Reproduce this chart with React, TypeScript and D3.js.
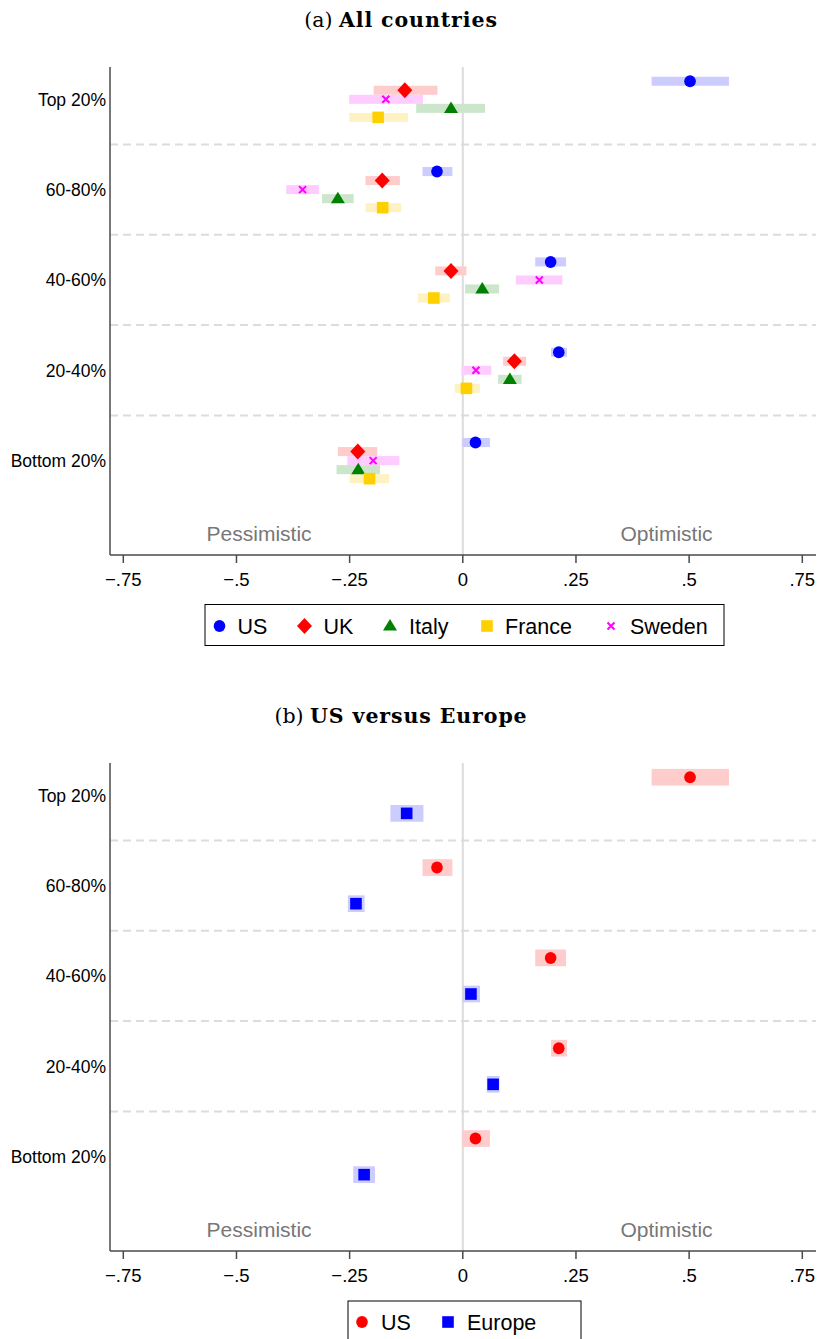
import React from "react";
import * as d3 from "d3";

// ---------- data ----------
const categories = ["Top 20%", "60-80%", "40-60%", "20-40%", "Bottom 20%"];
const tickValues = [-0.75, -0.5, -0.25, 0, 0.25, 0.5, 0.75];
const tickLabels = ["\u2212.75", "\u2212.5", "\u2212.25", "0", ".25", ".5", ".75"];

// Panel (a): all countries (point estimate, lower, upper)
const usEst = [0.502, -0.057, 0.194, 0.212, 0.028];
const usLo = [0.417, -0.089, 0.16, 0.195, -0.001];
const usHi = [0.588, -0.023, 0.228, 0.23, 0.06];

const ukEst = [-0.128, -0.178, -0.026, 0.114, -0.232];
const ukLo = [-0.197, -0.215, -0.061, 0.089, -0.276];
const ukHi = [-0.056, -0.139, 0.008, 0.14, -0.189];

const swedenEst = [-0.17, -0.354, 0.169, 0.029, -0.198];
const swedenLo = [-0.251, -0.39, 0.117, -0.003, -0.255];
const swedenHi = [-0.088, -0.318, 0.22, 0.063, -0.14];

const italyEst = [-0.026, -0.276, 0.043, 0.104, -0.231];
const italyLo = [-0.103, -0.311, 0.005, 0.078, -0.279];
const italyHi = [0.049, -0.241, 0.08, 0.13, -0.183];

const franceEst = [-0.187, -0.177, -0.064, 0.008, -0.206];
const franceLo = [-0.251, -0.215, -0.099, -0.018, -0.25];
const franceHi = [-0.121, -0.136, -0.028, 0.038, -0.163];

// Panel (b): US versus Europe
const europeEst = [-0.124, -0.236, 0.018, 0.067, -0.218];
const europeLo = [-0.16, -0.254, 0.0, 0.053, -0.242];
const europeHi = [-0.087, -0.217, 0.038, 0.081, -0.194];

type Shape = "circle" | "diamond" | "triangle" | "square" | "x";
interface Series {
  name: string;
  est: number[];
  lo: number[];
  hi: number[];
  color: string;
  fill: string;
  shape: Shape;
  offset: number;
}

const seriesA: Series[] = [
  { name: "US", est: usEst, lo: usLo, hi: usHi, color: "#0000ff", fill: "#ccccff", shape: "circle", offset: -0.2 },
  { name: "UK", est: ukEst, lo: ukLo, hi: ukHi, color: "#ff0000", fill: "#ffcccc", shape: "diamond", offset: -0.1 },
  { name: "Sweden", est: swedenEst, lo: swedenLo, hi: swedenHi, color: "#ff00ff", fill: "#ffccff", shape: "x", offset: 0 },
  { name: "Italy", est: italyEst, lo: italyLo, hi: italyHi, color: "#008000", fill: "#cce6cc", shape: "triangle", offset: 0.1 },
  { name: "France", est: franceEst, lo: franceLo, hi: franceHi, color: "#ffd000", fill: "#fff2c2", shape: "square", offset: 0.2 },
];
const legendOrderA = ["US", "UK", "Italy", "France", "Sweden"];

const seriesB: Series[] = [
  { name: "US", est: usEst, lo: usLo, hi: usHi, color: "#ff0000", fill: "#ffcccc", shape: "circle", offset: -0.2 },
  { name: "Europe", est: europeEst, lo: europeLo, hi: europeHi, color: "#0000ff", fill: "#ccccff", shape: "square", offset: 0.2 },
];
const legendOrderB = ["US", "Europe"];

// ---------- layout ----------
const W = 820;
const H = 1339;
const SANS = "'Liberation Sans', Arial, Helvetica, sans-serif";
const SERIF = "'DejaVu Serif', 'Liberation Serif', serif";

const x = d3.scaleLinear().domain([-0.75, 0.75]).range([123.3, 802.3]);
const plotLeft = 110;
const plotRight = 816;
const plotTop = 67;
const plotBottom = 555;
const y = d3.scaleLinear().domain([0, 4]).range([99.3, 460.6]);

function Marker({ shape, cx, cy, color, scale = 1 }: { shape: Shape; cx: number; cy: number; color: string; scale?: number }) {
  const s = scale;
  if (shape === "circle") return <ellipse cx={cx} cy={cy} rx={5.8 * s} ry={6 * s} fill={color} />;
  if (shape === "diamond") {
    const w = 7.5 * s, h = 8 * s;
    return <path d={`M${cx},${cy - h}L${cx + w},${cy}L${cx},${cy + h}L${cx - w},${cy}Z`} fill={color} />;
  }
  if (shape === "triangle") {
    const w = 7 * s, h = 11.5 * s;
    return <path d={`M${cx},${cy - h * 0.6}L${cx + w},${cy + h * 0.4}L${cx - w},${cy + h * 0.4}Z`} fill={color} />;
  }
  if (shape === "square") {
    const a = 5.8 * s;
    return <rect x={cx - a} y={cy - a} width={2 * a} height={2 * a} fill={color} />;
  }
  const a = 3.5 * s;
  return (
    <path
      d={`M${cx - a},${cy - a}L${cx + a},${cy + a}M${cx - a},${cy + a}L${cx + a},${cy - a}`}
      stroke={color}
      strokeWidth={2}
      fill="none"
    />
  );
}

interface PanelProps {
  dy: number;
  label: string;
  boldTitle: string;
  series: Series[];
  barUnits: number;
  legendOrder: string[];
  legendBox: [number, number, number, number];
  legendItems: { mx: number; tx: number }[];
  legendTextY: number;
}

function Panel(p: PanelProps) {
  const separators = [0.5, 1.5, 2.5, 3.5];
  const barH = y(p.barUnits) - y(0);
  return (
    <g transform={`translate(0,${p.dy})`}>
      <text x={401} y={27} textAnchor="middle" fontFamily={SERIF} fontSize={20.5} fill="#000">
        <tspan>{p.label} </tspan>
        <tspan fontWeight="bold" letterSpacing={0.9}>{p.boldTitle}</tspan>
      </text>

      {/* separators */}
      {separators.map((s) => (
        <line key={s} x1={plotLeft} x2={plotRight} y1={y(s)} y2={y(s)} stroke="#dcdcdc" strokeWidth={2} strokeDasharray="8,5" />
      ))}
      {/* zero line */}
      <line x1={x(0)} x2={x(0)} y1={plotTop} y2={plotBottom} stroke="#dcdcdc" strokeWidth={2} />

      {/* CI bars */}
      {p.series.map((s) =>
        s.est.map((_, i) => (
          <rect
            key={`${s.name}-bar-${i}`}
            x={x(s.lo[i])}
            width={x(s.hi[i]) - x(s.lo[i])}
            y={y(i + s.offset) - barH / 2}
            height={barH}
            fill={s.fill}
          />
        ))
      )}
      {/* markers */}
      {p.series.map((s) =>
        s.est.map((v, i) => (
          <Marker key={`${s.name}-m-${i}`} shape={s.shape} cx={x(v)} cy={y(i + s.offset)} color={s.color} />
        ))
      )}

      {/* axes */}
      <line x1={plotLeft} x2={plotLeft} y1={plotTop} y2={plotBottom} stroke="#4a4a4a" strokeWidth={1.5} />
      <line x1={plotLeft} x2={plotRight} y1={plotBottom} y2={plotBottom} stroke="#4a4a4a" strokeWidth={1.5} />
      {tickValues.map((t, i) => (
        <g key={t}>
          <line x1={x(t)} x2={x(t)} y1={plotBottom} y2={plotBottom + 8} stroke="#4a4a4a" strokeWidth={1.5} />
          <text x={x(t)} y={586} textAnchor="middle" fontFamily={SANS} fontSize={18.5} fill="#000">
            {tickLabels[i]}
          </text>
        </g>
      ))}
      {categories.map((c, i) => (
        <text key={c} x={106} y={y(i) + 6.5} textAnchor="end" fontFamily={SANS} fontSize={17.5} fill="#000">
          {c}
        </text>
      ))}

      <text x={x(-0.45)} y={540.5} textAnchor="middle" fontFamily={SANS} fontSize={21} fill="#777">
        Pessimistic
      </text>
      <text x={x(0.45)} y={540.5} textAnchor="middle" fontFamily={SANS} fontSize={21} fill="#777">
        Optimistic
      </text>

      {/* legend */}
      <rect
        x={p.legendBox[0]}
        y={p.legendBox[1]}
        width={p.legendBox[2]}
        height={p.legendBox[3]}
        fill="#fff"
        stroke="#000"
        strokeWidth={1}
      />
      {p.legendOrder.map((name, k) => {
        const s = p.series.find((q) => q.name === name)!;
        const it = p.legendItems[k];
        return (
          <g key={name}>
            <Marker shape={s.shape} cx={it.mx} cy={p.legendTextY - 8} color={s.color} />
            <text x={it.tx} y={p.legendTextY} fontFamily={SANS} fontSize={21.5} fill="#000">
              {name}
            </text>
          </g>
        );
      })}
    </g>
  );
}

export default function App() {
  return (
    <svg width={W} height={H} style={{ position: "absolute", left: 0, top: 0, display: "block", background: "#fff" }}>
      <rect x={0} y={0} width={W} height={H} fill="#fff" />
      <Panel
        dy={0}
        label="(a)"
        boldTitle="All countries"
        series={seriesA}
        barUnits={0.1}
        legendOrder={legendOrderA}
        legendBox={[205, 604.5, 519, 41]}
        legendItems={[
          { mx: 219.5, tx: 237.5 },
          { mx: 304.5, tx: 323.5 },
          { mx: 390, tx: 409 },
          { mx: 487, tx: 505 },
          { mx: 611, tx: 630 },
        ]}
        legendTextY={634}
      />
      <Panel
        dy={696}
        label="(b)"
        boldTitle="US versus Europe"
        series={seriesB}
        barUnits={0.185}
        legendOrder={legendOrderB}
        legendBox={[348, 605, 233, 45]}
        legendItems={[
          { mx: 362, tx: 381 },
          { mx: 448, tx: 467 },
        ]}
        legendTextY={634}
      />
    </svg>
  );
}
